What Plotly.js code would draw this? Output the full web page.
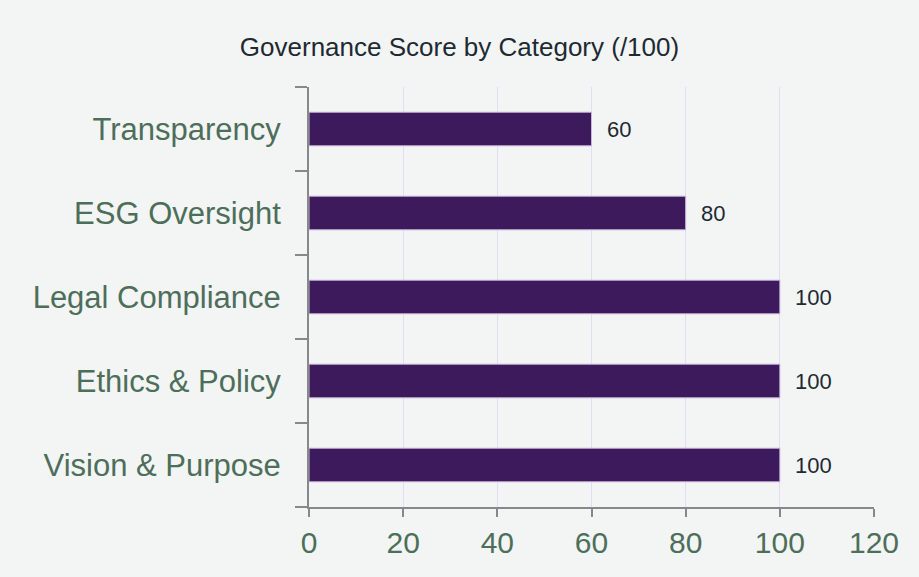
<!DOCTYPE html>
<html><head><meta charset="utf-8">
<script src="https://cdn.plot.ly/plotly-3.0.1.min.js"></script>
<style>html,body{margin:0;padding:0;background:#f3f5f4;}#chart{width:919px;height:577px;}</style>
</head><body><div id="chart"></div>
<script>
const categories = ["Vision & Purpose", "Ethics & Policy", "Legal Compliance", "ESG Oversight", "Transparency"];
const scores = [100, 100, 100, 80, 60];
const xTicks = [0, 20, 40, 60, 80, 100, 120];

const FONT = "Liberation Sans, Arial, sans-serif";
const trace = {
  type: "bar", orientation: "h",
  x: scores, y: categories,
  width: 0.4,
  marker: {color: "#3c1a5b", line: {color: "#c8b4dc", width: 1}},
  hoverinfo: "none"
};
const annotations = scores.map((v, i) => ({
  x: v, y: categories[i], xref: "x", yref: "y",
  text: String(v), showarrow: false, xanchor: "left", xshift: 13,
  font: {family: FONT, size: 22, color: "#1e2a33"}
}));
const layout = {
  width: 919, height: 577,
  paper_bgcolor: "#f3f5f4", plot_bgcolor: "#f3f5f4",
  margin: {l: 309, r: 45, t: 87, b: 70},
  title: {text: "Governance Score by Category (/100)", x: 0.5, xanchor: "center", y: 0.918, yanchor: "middle",
    font: {family: FONT, size: 26, color: "#1e2a33"}},
  xaxis: {range: [0, 120], tickvals: xTicks, ticktext: xTicks.map(String),
    showgrid: true, gridcolor: "#e6dcf2", gridwidth: 1, zeroline: false,
    showline: true, linecolor: "#888888", linewidth: 2,
    ticks: "outside", ticklen: 8, tickwidth: 2, tickcolor: "#888888",
    tickfont: {family: FONT, size: 30, color: "#4d6e5a"}, fixedrange: true},
  yaxis: {categoryorder: "array", categoryarray: categories,
    showgrid: false, zeroline: false, showline: true, linecolor: "#888888", linewidth: 2,
    ticks: "outside", tickson: "boundaries", ticklen: 12, tickwidth: 2, tickcolor: "#888888",
    ticklabelstandoff: 20,
    tickfont: {family: FONT, size: 31, color: "#4d6e5a"}, fixedrange: true},
  annotations: annotations,
  showlegend: false
};
Plotly.newPlot("chart", [trace], layout, {displayModeBar: false, staticPlot: true});
</script></body></html>
